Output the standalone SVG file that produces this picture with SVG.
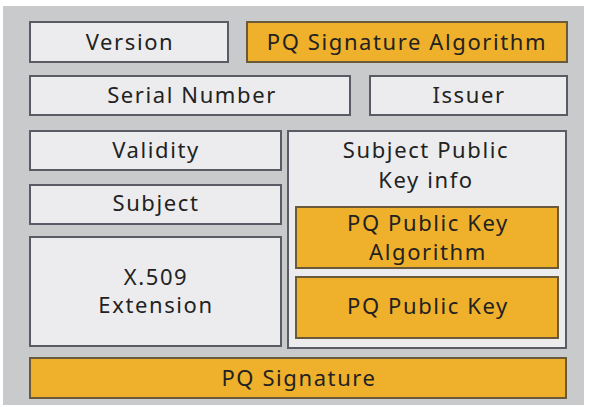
<svg xmlns="http://www.w3.org/2000/svg" width="590" height="407" viewBox="0 0 590 407">
<style>
.bg{fill:#c9cacc}
.lt{fill:#ececee;stroke:#5b5b66;stroke-width:2}
.or{fill:#efb02b;stroke:#6b5a3a;stroke-width:2}
text{font-family:"Noto Sans","Open Sans","Liberation Sans",sans-serif;font-size:22px;letter-spacing:1.6px;fill:#222222;text-anchor:middle}
</style>
<rect width="590" height="407" fill="#ffffff"/>
<rect class="bg" x="3" y="6" width="581" height="399"/>
<g id="version"><rect class="lt" x="30" y="22" width="198" height="40"/><text x="130" y="50">Version</text></g>
<g id="pq-sig-alg"><rect class="or" x="247" y="22" width="320" height="40"/><text x="407" y="50">PQ Signature Algorithm</text></g>
<g id="serial"><rect class="lt" x="30" y="76" width="320" height="39"/><text x="192" y="103">Serial Number</text></g>
<g id="issuer"><rect class="lt" x="370" y="76" width="197" height="39"/><text x="469" y="103">Issuer</text></g>
<g id="validity"><rect class="lt" x="30" y="131" width="251" height="39"/><text x="156" y="158">Validity</text></g>
<g id="subject"><rect class="lt" x="30" y="185" width="251" height="39"/><text x="156" y="211">Subject</text></g>
<g id="extension"><rect class="lt" x="30" y="237" width="251" height="109"/><text x="156" y="285">X.509</text><text x="156" y="313">Extension</text></g>
<g id="spki"><rect class="lt" x="288" y="131" width="278" height="217"/><text x="426" y="158">Subject Public</text><text x="426" y="188">Key info</text></g>
<g id="pq-pk-alg"><rect class="or" x="296" y="207" width="262" height="61"/><text x="428" y="231">PQ Public Key</text><text x="428" y="260">Algorithm</text></g>
<g id="pq-pk"><rect class="or" x="296" y="277" width="262" height="61"/><text x="428" y="314">PQ Public Key</text></g>
<g id="pq-sig"><rect class="or" x="30" y="358" width="536" height="40"/><text x="299" y="386">PQ Signature</text></g>
<g id="connectors"></g>
</svg>
